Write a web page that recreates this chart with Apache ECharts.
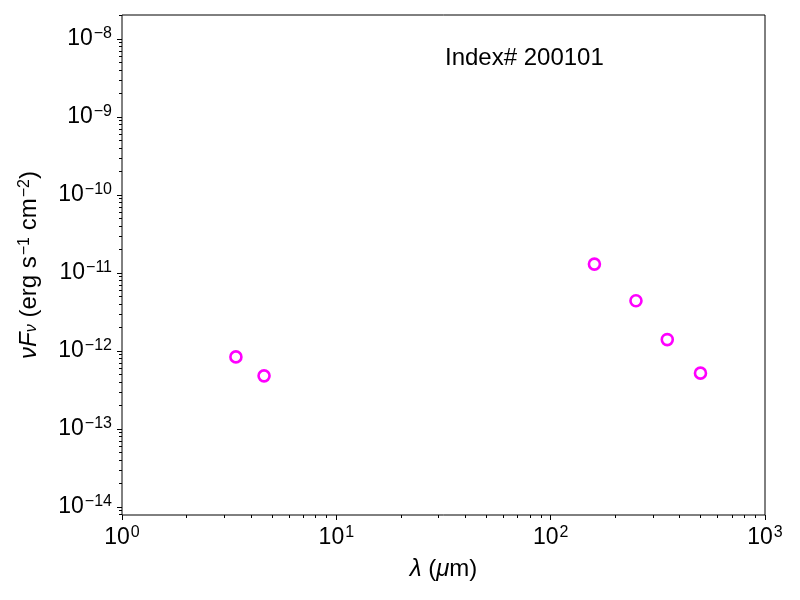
<!DOCTYPE html>
<html>

<head>
	<meta charset="utf-8">
	<title>SED 200101</title>
	<script src="https://cdn.jsdelivr.net/npm/echarts@6/dist/echarts.min.js"></script>
	<style>
		html, body { margin: 0; padding: 0; background: #fff; }
		#main { width: 800px; height: 600px; }
	</style>
</head>

<body>
	<div id="main"></div>

	<script type="text/javascript">
		// data
		var wavelengths = [3.4, 4.6, 160, 250, 350, 500];          // micron
		var fluxes = [8.4e-13, 4.8e-13, 1.3e-11, 4.4e-12, 1.4e-12, 5.2e-13]; // erg s-1 cm-2
		var xExpRange = [0, 3];
		var yExpRange = [-14.103, -7.692];
		var xMajorExp = [0, 1, 2, 3];
		var yMajorExp = [-14, -13, -12, -11, -10, -9, -8];
		var indexLabel = 'Index# 200101';

		var FONT = '"Liberation Sans", Arial, sans-serif';

		// minor tick positions (in log10 units) between the decades
		function minorTicks(range) {
			var out = [];
			for (var d = Math.floor(range[0]) - 1; d <= Math.ceil(range[1]); d++) {
				for (var k = 2; k <= 9; k++) {
					var v = d + Math.log10(k);
					if (v >= range[0] && v <= range[1]) out.push(v);
				}
			}
			return out;
		}

		function powLabel(v) {
			var e = Math.log10(v);
			var r = Math.round(e);
			if (Math.abs(e - r) > 1e-6) return '';
			return '{b|10}{s|' + String(r).replace('-', '\u2212') + '}';
		}

		var labelRich = {
			b: { fontSize: 23, lineHeight: 23, fontFamily: FONT, color: '#000' },
			s: { fontSize: 16, lineHeight: 16, fontFamily: FONT, color: '#000', padding: [0, 0, 10, 1] }
		};

		function tickAxis(min, max, values, len, pos) {
			return {
				type: 'value', gridIndex: 0, position: pos, min: min, max: max,
				axisLine: { show: false },
				axisLabel: { show: false },
				splitLine: { show: false },
				axisTick: { show: true, customValues: values, length: len, lineStyle: { color: '#000', width: 1 } },
				silent: true
			};
		}

		var myChart = echarts.init(document.getElementById('main'));

		myChart.setOption({
			animation: false,
			backgroundColor: '#fff',
			grid: {
				left: 122, right: 35, top: 15, bottom: 85,
				show: true, borderColor: '#000', borderWidth: 1, backgroundColor: 'transparent'
			},
			xAxis: [
				{
					type: 'log', logBase: 10,
					min: Math.pow(10, xExpRange[0]), max: Math.pow(10, xExpRange[1]),
					position: 'bottom',
					axisLine: { show: false },
					axisTick: { show: false },
					splitLine: { show: false },
					axisLabel: { margin: 11, formatter: powLabel, rich: labelRich, showMinLabel: true, showMaxLabel: true },
					name: '{i|\u03bb}{n| (}{i|\u03bc}{n|m)}',
					nameLocation: 'middle',
					nameGap: 42,
					nameTextStyle: {
						rich: {
							i: { fontSize: 24, fontFamily: FONT, fontStyle: 'italic', color: '#000' },
							n: { fontSize: 24, fontFamily: FONT, color: '#000' }
						}
					}
				},
				tickAxis(xExpRange[0], xExpRange[1], xMajorExp, 5, 'bottom'),
				tickAxis(xExpRange[0], xExpRange[1], minorTicks(xExpRange), 3, 'bottom')
			],
			yAxis: [
				{
					type: 'log', logBase: 10,
					min: Math.pow(10, yExpRange[0]), max: Math.pow(10, yExpRange[1]),
					position: 'left',
					axisLine: { show: false },
					axisTick: { show: false },
					splitLine: { show: false },
					axisLabel: { margin: 10, formatter: powLabel, rich: labelRich, showMinLabel: false, showMaxLabel: false },
					name: '{i|\u03bdF}{sub|\u03bd}{n| (erg s}{sup|\u22121}{n| cm}{sup|\u22122}{n|)}',
					nameLocation: 'middle',
					nameRotate: 90,
					nameGap: 65,
					nameTextStyle: {
						rich: {
							i: { fontSize: 24, lineHeight: 24, fontFamily: FONT, fontStyle: 'italic', color: '#000', padding: [0, 0, 5, 0] },
							sub: { fontSize: 16, lineHeight: 16, fontFamily: FONT, fontStyle: 'italic', color: '#000' },
							n: { fontSize: 24, lineHeight: 24, fontFamily: FONT, color: '#000', padding: [0, 0, 5, 0] },
							sup: { fontSize: 16, lineHeight: 16, fontFamily: FONT, color: '#000', padding: [0, 0, 15, 1] }
						}
					}
				},
				tickAxis(yExpRange[0], yExpRange[1], yMajorExp, 5, 'left'),
				tickAxis(yExpRange[0], yExpRange[1], minorTicks(yExpRange), 3, 'left')
			],
			graphic: [{
				type: 'text',
				left: 445, top: 46,
				style: { text: indexLabel, font: '24px ' + FONT, fill: '#000' },
				silent: true
			}],
			series: [{
				type: 'scatter',
				xAxisIndex: 0,
				yAxisIndex: 0,
				data: wavelengths.map(function (w, i) { return [w, fluxes[i]]; }),
				symbol: 'circle',
				symbolSize: 11,
				itemStyle: { color: 'rgba(0,0,0,0)', borderColor: '#ff00ff', borderWidth: 2.6, opacity: 1 },
				emphasis: { disabled: true }
			}]
		});
	</script>

</body>

</html>
